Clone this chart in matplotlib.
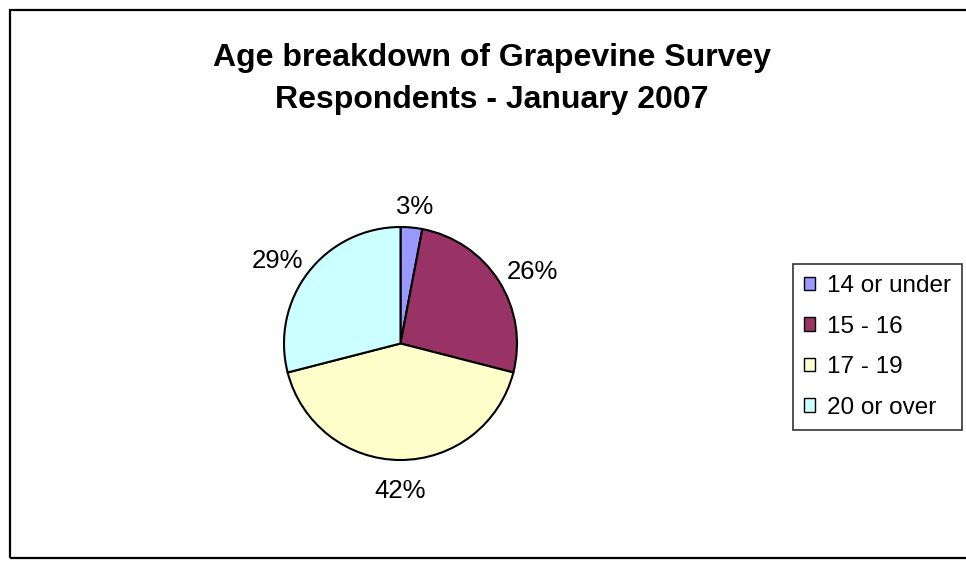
import matplotlib
matplotlib.use("Agg")
import numpy as np
import matplotlib.pyplot as plt
from matplotlib.patches import Rectangle

plt.rcParams['font.family'] = ['Liberation Sans', 'DejaVu Sans']

categories = ["14 or under", "15 - 16", "17 - 19", "20 or over"]
values = [3, 26, 42, 29]
colors = ["#9999FF", "#993366", "#FFFFCC", "#CCFFFF"]
title = "Age breakdown of Grapevine Survey\nRespondents - January 2007"

W, H = 966, 567
fig = plt.figure(figsize=(W / 100, H / 100), dpi=100)
fig.patch.set_facecolor("white")

# outer chart border
fig.patches.append(Rectangle((10 / W, (H - 558) / H), (W - 10 + 20) / W, (558 - 10) / H,
                             transform=fig.transFigure, fill=False,
                             edgecolor="black", linewidth=1.6, clip_on=False))

cx, cy, r = 400.5, 343.5, 116.5
ax = fig.add_axes([(cx - r) / W, (H - cy - r) / H, 2 * r / W, 2 * r / H])
wedges, texts, autotexts = ax.pie(values, colors=colors, startangle=90, counterclock=False,
                                  autopct='%.0f%%', pctdistance=1.27, radius=1,
                                  wedgeprops=dict(edgecolor="black", linewidth=1.5),
                                  textprops=dict(fontsize=18.5, color="black"))
ax.set_xlim(-1, 1)
ax.set_ylim(-1, 1)
ax.set_aspect("equal")
ax.axis("off")

# Excel-like label placement: bbox just outside the pie along the mid-angle
fig.canvas.draw()
renderer = fig.canvas.get_renderer()
gap = 14.0 / r
drop = 5.0 / r
for w, t in zip(wedges, autotexts):
    t.set_clip_on(False)
    ang = np.deg2rad((w.theta1 + w.theta2) / 2)
    dx, dy = np.cos(ang), np.sin(ang)
    bb = t.get_window_extent(renderer)
    tw, th = bb.width / r, bb.height / r
    t.set_position(((1 + gap) * dx + tw / 2 * dx,
                    (1 + gap) * dy + th / 2 * dy - drop))
    t.set_ha("center")
    t.set_va("center")

fig.text(492 / W, 1 - 79 / H, title, ha="center", va="center", fontsize=23,
         fontweight="bold", linespacing=1.5)

leg = fig.legend(wedges, categories, loc="center left",
                 bbox_to_anchor=(793 / W, 1 - 347 / H), fontsize=17.5,
                 frameon=True, fancybox=False, edgecolor="black",
                 handlelength=0.46, handleheight=0.46, handletextpad=0.5,
                 labelspacing=0.76, borderpad=0.45, borderaxespad=0)
leg.get_frame().set_linewidth(1.2)
for h in leg.legend_handles:
    h.set_linewidth(1.0)

fig.savefig("out.png", dpi=100, facecolor="white")
